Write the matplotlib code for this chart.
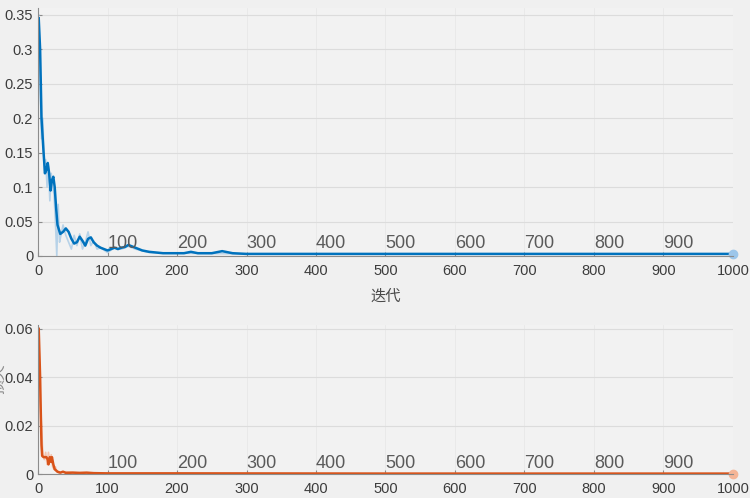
import numpy as np
import matplotlib.pyplot as plt

plt.rcParams['font.family'] = ['Liberation Sans', 'Noto Sans CJK SC']

# top panel (accuracy-ish curve), sampled iterations
top_x = [1, 3, 5, 8, 10, 12, 14, 16, 18, 20, 22, 24, 26, 28, 32, 36, 40, 44, 48, 52,
         56, 60, 64, 68, 72, 76, 80, 85, 90, 95, 100, 105, 110, 115, 120, 125, 130,
         135, 140, 150, 160, 180, 200, 210, 220, 230, 250, 265, 280, 300, 400, 500,
         600, 700, 800, 900, 1000]
top_smooth = [0.345, 0.30, 0.20, 0.15, 0.12, 0.125, 0.135, 0.12, 0.095, 0.11, 0.115,
              0.10, 0.07, 0.045, 0.032, 0.035, 0.04, 0.035, 0.025, 0.018, 0.02, 0.028,
              0.022, 0.015, 0.025, 0.027, 0.02, 0.015, 0.012, 0.010, 0.008, 0.010,
              0.012, 0.010, 0.012, 0.013, 0.016, 0.014, 0.012, 0.008, 0.006, 0.004,
              0.004, 0.004, 0.006, 0.004, 0.004, 0.007, 0.004, 0.003, 0.003, 0.003,
              0.003, 0.003, 0.003, 0.003, 0.003]
top_raw_x = [1, 3, 5, 7, 9, 11, 13, 15, 17, 19, 21, 23, 25, 27, 29, 31, 33, 36, 40,
             44, 48, 52, 56, 60, 64, 68, 72, 76, 80, 85, 90, 100, 110, 120, 130, 140,
             160, 200, 300, 1000]
top_raw = [0.35, 0.25, 0.17, 0.20, 0.12, 0.14, 0.10, 0.13, 0.08, 0.12, 0.10, 0.09,
           0.05, 0.0, 0.075, 0.02, 0.03, 0.045, 0.03, 0.02, 0.01, 0.03, 0.015, 0.032,
           0.01, 0.02, 0.035, 0.015, 0.022, 0.01, 0.012, 0.005, 0.012, 0.01, 0.014,
           0.01, 0.005, 0.004, 0.003, 0.003]

# bottom panel (loss)
bot_x = [1, 2, 3, 4, 5, 6, 8, 12, 14, 15, 17, 19, 20, 22, 24, 28, 32, 36, 40, 50,
         60, 70, 80, 100, 200, 500, 1000]
bot_smooth = [0.06, 0.05, 0.04, 0.025, 0.012, 0.0075, 0.007, 0.007, 0.006, 0.004,
              0.007, 0.005, 0.007, 0.004, 0.002, 0.001, 0.0006, 0.001, 0.0005,
              0.0006, 0.0005, 0.0006, 0.0004, 0.0003, 0.0003, 0.0002, 0.0002]
bot_raw_x = [1, 3, 5, 7, 9, 11, 13, 15, 17, 19, 21, 23, 25, 27, 30, 40, 60, 100, 1000]
bot_raw = [0.06, 0.03, 0.02, 0.008, 0.006, 0.009, 0.004, 0.009, 0.005, 0.008, 0.003,
           0.002, 0.003, 0.001, 0.0005, 0.001, 0.0004, 0.0003, 0.0002]

epochs = [100, 200, 300, 400, 500, 600, 700, 800, 900]

bg = '#f2f2f2'
fig = plt.figure(figsize=(7.5, 4.98), dpi=100, facecolor='#f0f0f0')
ax1 = fig.add_axes([0.0507, 0.486, 0.9266, 0.498])
ax2 = fig.add_axes([0.0507, 0.048, 0.9266, 0.299])


def style(ax, ymax, yticks, ylabels):
    ax.set_facecolor(bg)
    ax.set_xlim(0, 1000)
    ax.set_ylim(0, ymax)
    ax.set_xticks(range(0, 1001, 100))
    ax.set_yticks(yticks)
    ax.set_yticklabels(ylabels)
    for s in ['top', 'right']:
        ax.spines[s].set_visible(False)
    for s in ['left', 'bottom']:
        ax.spines[s].set_color('#8c8c8c')
    ax.tick_params(direction='in', colors='#8c8c8c', labelcolor='#3c3c3c',
                   labelsize=10.5, length=3)
    ax.tick_params(axis='x', pad=6)
    ax.grid(True, axis='y', color='#dcdcdc', lw=0.8)
    ax.grid(True, axis='x', color='#e8e8e8', lw=0.6)
    ax.set_axisbelow(True)
    for e in epochs:
        ax.text(e, ymax * 0.015, str(e), fontsize=13, color='#5a5a5a',
                ha='left', va='bottom')


style(ax1, 0.36, [0, 0.05, 0.1, 0.15, 0.2, 0.25, 0.3, 0.35],
      ['0', '0.05', '0.1', '0.15', '0.2', '0.25', '0.3', '0.35'])
ax1.plot(top_raw_x, top_raw, color='#a9cbe6', lw=1.2, alpha=0.8)
ax1.plot(top_x, top_smooth, color='#0072bd', lw=1.8)
ax1.plot([1000], [top_smooth[-1]], 'o', ms=6, color='#9cc6ea', clip_on=False)
ax1.set_xlabel('迭代', fontsize=11, color='#4a4a4a', labelpad=8)

style(ax2, 0.0615, [0, 0.02, 0.04, 0.06], ['0', '0.02', '0.04', '0.06'])
ax2.plot(bot_raw_x, bot_raw, color='#f2b9a0', lw=1.2, alpha=0.8)
ax2.plot(bot_x, bot_smooth, color='#d95319', lw=1.8)
ax2.plot([1000], [bot_smooth[-1]], 'o', ms=6, color='#f5b596', clip_on=False)

# y label of the lower panel, mostly cut off at the left edge as in the original
fig.text(0.008, 0.24, '损失', rotation=90, fontsize=11, color='#8a8a8a',
         ha='right', va='center')

fig.savefig('out.png', dpi=100, facecolor=fig.get_facecolor())
